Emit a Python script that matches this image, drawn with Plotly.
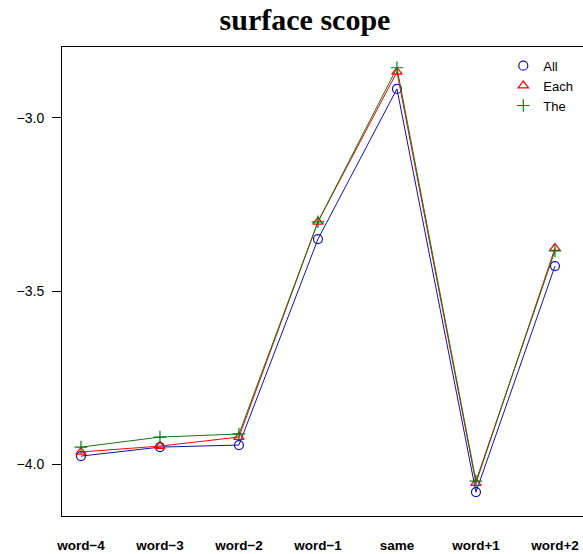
import plotly.graph_objects as go

categories = ["word−4", "word−3", "word−2", "word−1", "same", "word+1", "word+2"]
all_vals = [-3.977, -3.951, -3.945, -3.350, -2.916, -4.081, -3.428]
each_vals = [-3.965, -3.948, -3.922, -3.300, -2.867, -4.055, -3.376]
the_vals = [-3.951, -3.922, -3.913, -3.300, -2.855, -4.049, -3.384]
ytick_vals = [-4.0, -3.5, -3.0]
ytick_text = ["−4.0", "−3.5", "−3.0"]

x = list(range(len(categories)))

fig = go.Figure()
series = [
    ("All", all_vals, "#1010B0", "circle-open"),
    ("Each", each_vals, "#FF0000", "triangle-up-open"),
    ("The", the_vals, "#117711", "cross-thin-open"),
]
for name, vals, color, sym in series:
    fig.add_trace(go.Scatter(
        x=x, y=vals, name=name, mode="lines+markers", showlegend=False,
        line=dict(color=color, width=1),
        marker=dict(symbol=sym, size=9, color=color, line=dict(color=color, width=1.2)),
    ))
# legend entries (markers only, as in the reference)
for name, vals, color, sym in series:
    fig.add_trace(go.Scatter(
        x=[None], y=[None], name=name, mode="markers", showlegend=True,
        marker=dict(symbol=sym, size=9, color=color, line=dict(color=color, width=1.2)),
    ))

fig.update_layout(
    width=583, height=554,
    margin=dict(l=62, r=0, t=47, b=38, autoexpand=False),
    paper_bgcolor="white", plot_bgcolor="white",
    title=dict(text="<b>surface scope</b>", x=305 / 583, xanchor="center", y=1 - 19 / 554, yanchor="middle",
               font=dict(family="Liberation Serif", size=30, color="black")),
    font=dict(family="Liberation Sans", size=13, color="black"),
    showlegend=True,
    legend=dict(x=0.847, y=0.992, xanchor="left", yanchor="top", bgcolor="rgba(0,0,0,0)",
                font=dict(size=13), itemwidth=30, tracegroupgap=0),
    xaxis=dict(range=[-0.24, 6.355], tickmode="array", tickvals=x,
               ticktext=["<b>%s</b>" % c for c in categories], automargin=False,
               showgrid=False, zeroline=False, showline=True, linecolor="black", linewidth=1,
               mirror=True, ticks="", ticklabelstandoff=17, tickfont=dict(size=13.5)),
    yaxis=dict(range=[-4.150, -2.795], tickmode="array", tickvals=ytick_vals, ticktext=ytick_text,
               automargin=False,
               showgrid=False, zeroline=False, showline=True, linecolor="black", linewidth=1,
               ticks="outside", ticklen=9, tickcolor="black", ticklabelstandoff=5,
               tickfont=dict(size=14)),
)

fig.write_html("out.html", config={"displayModeBar": False},
               post_script="document.body.style.margin='0px';document.body.style.overflow='hidden';")
